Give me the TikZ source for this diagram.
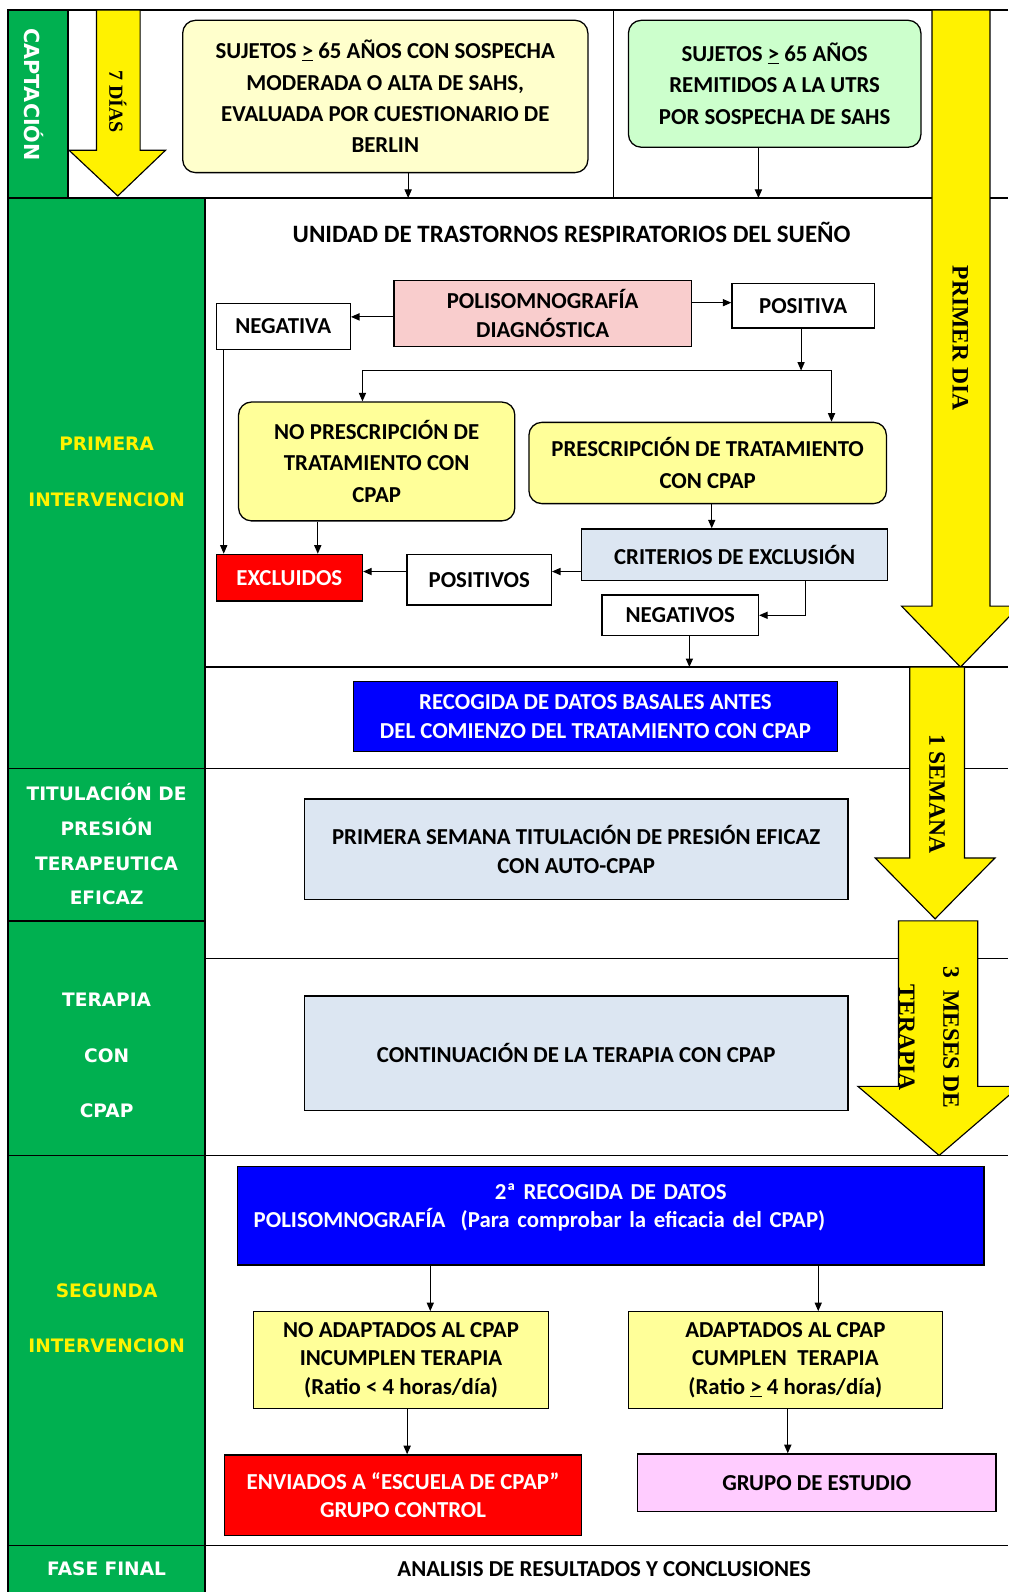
\documentclass[tikz,border=0pt]{standalone}
\usepackage{fontspec}
\setmainfont{Carlito}
\newfontfamily\lanefam{DejaVu Sans}
\newfontfamily\serifam{Liberation Serif}
\usetikzlibrary{arrows.meta}

\definecolor{lanegreen}{HTML}{00B050}
\definecolor{paleyellow}{HTML}{FFFFCC}
\definecolor{palegreen}{HTML}{CCFFCC}
\definecolor{boxyellow}{HTML}{FFFF99}
\definecolor{boxpink}{HTML}{F9CDCD}
\definecolor{boxgrey}{HTML}{DCE6F2}
\definecolor{boxviolet}{HTML}{FFCCFF}

\begin{document}
\begin{tikzpicture}[
      x=0.025cm, y=-0.025cm,
      box/.style={draw, line width=0.9pt, inner sep=0pt, align=center, font=\fontsize{16}{20}\selectfont\bfseries},
      rbox/.style={box, rounded corners=9pt, font=\fontsize{16}{22}\selectfont\bfseries},
      lane/.style={font=\lanefam\bfseries\fontsize{13}{#1}\selectfont, align=center},
      days/.style={font=\serifam\bfseries\fontsize{16.5}{31}\selectfont, rotate=-90, align=center},
      yarrow/.style={draw, line width=0.8pt, fill=yellow},
      arr/.style={-{Triangle[length=6pt,width=5pt]}, line width=0.8pt},
      rule/.style={line width=1pt}
    ]
      \useasboundingbox (0,0) rectangle (993,1568);
      % Lanes
      \fill[lanegreen] (8,10) rectangle (67,195);
      \fill[lanegreen] (8,195) rectangle (202,1568);
      \draw[rule] (993,10) -- (8,10) -- (8,1568);
      \draw[rule] (67,10) -- (67,195);
      \draw[rule] (202,195) -- (202,1568);
      \draw[rule] (604,10) -- (604,195);
      \foreach \y in {195,757,1138,1522} \draw[rule] (8,\y) -- (993,\y);
      \draw[rule] (8,907) -- (202,907);
      \foreach \y in {657,944} \draw[rule] (202,\y) -- (993,\y);
      % Time arrows
      \draw[yarrow] (95,10) -- (138,10) -- (138,148) -- (163,148) -- (116,193) -- (68,148) -- (95,148) -- cycle;
      \draw[yarrow] (918,10) -- (975,10) -- (975,597) -- (1004,597) -- (946,657) -- (888,597) -- (918,597) -- cycle;
      \draw[yarrow] (896,657) -- (950,657) -- (950,845) -- (980,845) -- (921,905) -- (862,845) -- (896,845) -- cycle;
      \draw[yarrow] (885,907) -- (963,907) -- (963,1070) -- (1004,1070) -- (925,1138) -- (845,1070) -- (885,1070) -- cycle;
      \node[days, font=\serifam\bfseries\fontsize{14}{16}\selectfont] (dias) at (116,100) {7 DÍAS};
      \node[days] (primerdia) at (946,333) {PRIMER DIA};
      \node[days] (semana) at (923,782) {1 SEMANA};
      \node[days] (meses) at (915,1022) {3\ \ MESES DE\\TERAPIA};
      % Lane labels
      \node[lane=16, rotate=-90, text=white, font=\lanefam\bfseries\fontsize{14.5}{16}\selectfont] (captacion) at (33,93) {CAPTACIÓN};
      \node[lane=39, text=yellow] (primera) at (105,464.5) {PRIMERA\\INTERVENCION};
      \node[lane=24.4, text=white] (titulacion) at (105,831.5) {TITULACIÓN DE\\PRESIÓN\\TERAPEUTICA\\EFICAZ};
      \node[lane=38.8, text=white] (terapia) at (105,1039.5) {TERAPIA\\CON\\CPAP};
      \node[lane=39, text=yellow] (segunda) at (105,1298.5) {SEGUNDA\\INTERVENCION};
      \node[lane=16, text=white] (fase) at (105,1545) {FASE FINAL};
      % Captacion
      \node[rbox, fill=paleyellow, minimum width=9.975cm, minimum height=3.75cm] (sujetos) at (379.5,95) {SUJETOS \underline{>} 65 AÑOS CON SOSPECHA\\MODERADA O ALTA DE SAHS,\\EVALUADA POR CUESTIONARIO DE\\BERLIN};
      \node[rbox, fill=palegreen, minimum width=7.2cm, minimum height=3.125cm] (remitidos) at (763,82.5) {SUJETOS \underline{>} 65 AÑOS\\REMITIDOS A LA UTRS\\POR SOSPECHA DE SAHS};
      \coordinate (in1) at (402,195);
      \coordinate (in2) at (747,195);
      \draw[arr] (sujetos.south -| in1) -- (in1);
      \draw[arr] (remitidos.south -| in2) -- (in2);
      % Primera intervencion
      \node[font=\fontsize{17.5}{20}\selectfont\bfseries] (unidad) at (563,229) {UNIDAD DE TRASTORNOS RESPIRATORIOS DEL SUEÑO};
      \node[box, fill=boxpink, minimum width=7.325cm, minimum height=1.625cm] (poli) at (534.5,308.5) {POLISOMNOGRAFÍA\\DIAGNÓSTICA};
      \node[box, minimum width=3.3cm, minimum height=1.125cm] (negativa) at (279,321.5) {NEGATIVA};
      \node[box, minimum width=3.5cm, minimum height=1.1cm] (positiva) at (791,301) {POSITIVA};
      \node[rbox, fill=boxyellow, minimum width=6.8cm, minimum height=2.925cm] (nopresc) at (371,454.5) {NO PRESCRIPCIÓN DE\\TRATAMIENTO CON\\CPAP};
      \node[rbox, fill=boxyellow, minimum width=8.8cm, minimum height=2cm] (prescr) at (697,456) {PRESCRIPCIÓN DE TRATAMIENTO\\CON CPAP};
      \node[box, fill=boxgrey, minimum width=7.525cm, minimum height=1.275cm] (criterios) at (723.5,546.5) {CRITERIOS DE EXCLUSIÓN};
      \node[box, fill=red, text=white, minimum width=3.6cm, minimum height=1.15cm] (excluidos) at (285,569) {EXCLUIDOS};
      \node[box, minimum width=3.55cm, minimum height=1.25cm] (positivos) at (472,571) {POSITIVOS};
      \node[box, minimum width=3.85cm, minimum height=1cm] (negativos) at (670,606) {NEGATIVOS};
      \coordinate (pn) at ([yshift=-0.09cm]poli.west);
      \coordinate (pp) at ([yshift=0.26cm]poli.east);
      \draw[arr] (pn) -- (pn -| negativa.east);
      \draw[arr] (pp) -- (pp -| positiva.west);
      \coordinate (split) at (789,365);
      \coordinate (splitL) at (357,365);
      \coordinate (splitR) at (819,365);
      \draw[arr] (positiva.south -| split) -- (split);
      \draw[line width=0.8pt] (splitL) -- (splitR);
      \draw[arr] (splitL) -- (splitL |- nopresc.north);
      \draw[arr] (splitR) -- (splitR |- prescr.north);
      \coordinate (pc) at ([xshift=0.1cm]prescr.south);
      \draw[arr] (pc) -- (pc |- criterios.north);
      \coordinate (excl) at ([yshift=-0.41cm]criterios.west);
      \draw[arr] (excl) -- (excl -| positivos.east);
      \draw[arr] (excl -| positivos.west) -- (excl -| excluidos.east);
      \draw[arr] ([xshift=1.74cm]criterios.south) |- (negativos.east);
      \coordinate (ne) at ([xshift=0.2cm]negativa.south west);
      \draw[arr] (ne) -- (ne |- excluidos.north);
      \coordinate (npe) at ([xshift=-1.45cm]nopresc.south);
      \draw[arr] (npe) -- (npe |- excluidos.north);
      \coordinate (basalin) at (679,657);
      \draw[arr] (negativos.south -| basalin) -- (basalin);
      \node[box, fill=blue, text=white, minimum width=11.925cm, minimum height=1.725cm] (basales) at (586.5,705.5) {RECOGIDA DE DATOS BASALES ANTES\\DEL COMIENZO DEL TRATAMIENTO CON CPAP};
      % Titulacion y terapia
      \node[box, fill=boxgrey, minimum width=13.375cm, minimum height=2.475cm] (autocpap) at (567.5,836.5) {PRIMERA SEMANA TITULACIÓN DE PRESIÓN EFICAZ\\CON AUTO-CPAP};
      \node[box, fill=boxgrey, minimum width=13.375cm, minimum height=2.825cm] (continuacion) at (567.5,1037.5) {CONTINUACIÓN DE LA TERAPIA CON CPAP};
      % Segunda intervencion
      \node[box, fill=blue, text=white, minimum width=18.375cm, minimum height=2.425cm, text width=17.575cm, align=left] (recogida) at (601.5,1197.5) {\makebox[17.575cm]{2ª RECOGIDA DE DATOS}\\POLISOMNOGRAFÍA\ \ (Para comprobar la eficacia del CPAP)\\[-0.2cm]\mbox{}};
      \node[box, fill=boxyellow, minimum width=7.25cm, minimum height=2.375cm] (noadapt) at (395,1339.5) {NO ADAPTADOS AL CPAP\\INCUMPLEN TERAPIA\\(Ratio < 4 horas/día)};
      \node[box, fill=boxyellow, minimum width=7.725cm, minimum height=2.375cm] (adapt) at (773.5,1339.5) {ADAPTADOS AL CPAP\\CUMPLEN\ \ TERAPIA\\(Ratio \underline{>} 4 horas/día)};
      \node[box, fill=red, text=white, minimum width=8.8cm, minimum height=1.975cm] (enviados) at (397,1472.5) {ENVIADOS A “ESCUELA DE CPAP”\\GRUPO CONTROL};
      \node[box, fill=boxviolet, minimum width=8.825cm, minimum height=1.425cm] (estudio) at (804.5,1460.5) {GRUPO DE ESTUDIO};
      \coordinate (na) at ([xshift=0.72cm]noadapt.north);
      \coordinate (ad) at ([xshift=0.81cm]adapt.north);
      \draw[arr] (na |- recogida.south) -- (na);
      \draw[arr] (ad |- recogida.south) -- (ad);
      \coordinate (ns) at ([xshift=0.15cm]noadapt.south);
      \coordinate (as) at ([xshift=0.06cm]adapt.south);
      \draw[arr] (ns) -- (ns |- enviados.north);
      \draw[arr] (as) -- (as |- estudio.north);
      % Fase final
      \node[font=\fontsize{16}{20}\selectfont\bfseries] (analisis) at (595,1545) {ANALISIS DE RESULTADOS Y CONCLUSIONES};
    \end{tikzpicture}
\end{document}
